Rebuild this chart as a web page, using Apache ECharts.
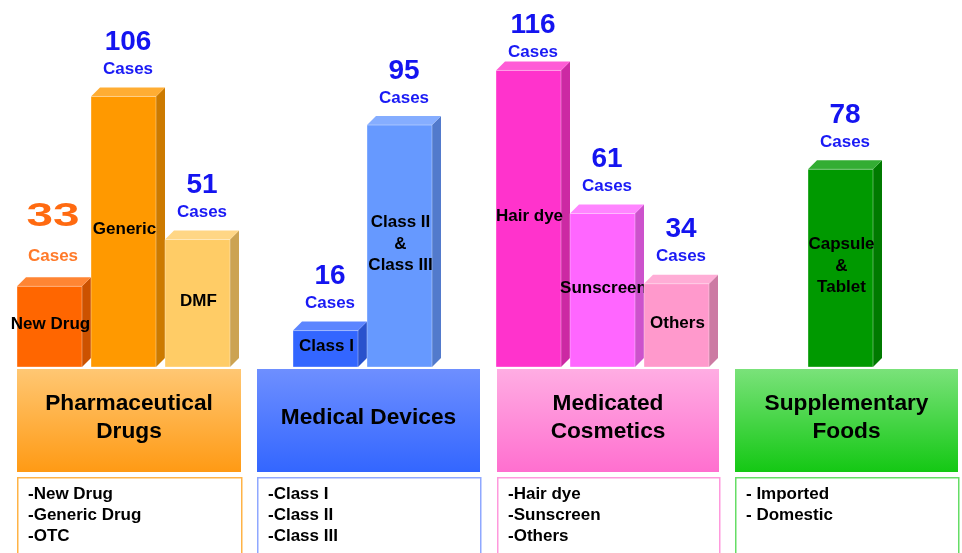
<!DOCTYPE html>
<html>
<head>
<meta charset="utf-8">
<script src="https://cdn.jsdelivr.net/npm/echarts@6/dist/echarts.min.js"></script>
<style>
html,body{margin:0;padding:0;background:#fff;}
#chart{width:962px;height:553px;}
</style>
</head>
<body>
<div id="chart"></div>
<script>
// ---------- DATA ----------
const groupTitles = ['Pharmaceutical\nDrugs', 'Medical Devices', 'Medicated\nCosmetics', 'Supplementary\nFoods'];
const pharmCats = ['New Drug', 'Generic', 'DMF'];
const pharmValues = [33, 106, 51];
const deviceCats = ['Class I', 'Class II\n&\nClass III'];
const deviceValues = [16, 95];
const cosmeticCats = ['Hair dye', 'Sunscreen', 'Others'];
const cosmeticValues = [116, 61, 34];
const foodCats = ['Capsule\n&\nTablet'];
const foodValues = [78];
const pharmItems = ['-New Drug', '-Generic Drug', '-OTC'];
const deviceItems = ['-Class I', '-Class II', '-Class III'];
const cosmeticItems = ['-Hair dye', '-Sunscreen', '-Others'];
const foodItems = ['- Imported', '- Domestic'];
const unitLabel = 'Cases';

// ---------- STYLE / LAYOUT ----------
const FONT = '"Liberation Sans", Arial, sans-serif';
const Y_MIN = 2, Y_MAX = 140;
const GRID_BOTTOM = 186, GRID_TOP = 8;
const BAND = 74, DEPTH = 9;
const groupsCfg = [
  { cats: pharmCats, values: pharmValues, left: 17, items: pharmItems,
    colors: [
      { front: '#FF6600', side: '#CC5200', top: '#FF8533' },
      { front: '#FF9900', side: '#CC7A00', top: '#FFAD33' },
      { front: '#FFCC66', side: '#CCA352', top: '#FFD685' }],
    box: { x: 17, w: 224, c0: '#FFC773', c1: '#FF9A14', border: '#FFB347' } },
  { cats: deviceCats, values: deviceValues, left: 293, items: deviceItems,
    colors: [
      { front: '#3366FF', side: '#2952CC', top: '#5C85FF' },
      { front: '#6699FF', side: '#527ACC', top: '#85ADFF' }],
    box: { x: 257, w: 223, c0: '#6E8FFF', c1: '#3366FF', border: '#8FA8FF' } },
  { cats: cosmeticCats, values: cosmeticValues, left: 496, items: cosmeticItems,
    colors: [
      { front: '#FF33CC', side: '#CC29A3', top: '#FF5CD6' },
      { front: '#FF66FF', side: '#CC52CC', top: '#FF85FF' },
      { front: '#FF99CC', side: '#CC7AA3', top: '#FFADD6' }],
    box: { x: 497, w: 222, c0: '#FFADE3', c1: '#FF6FCF', border: '#FF99DD' } },
  { cats: foodCats, values: foodValues, left: 808, items: foodItems,
    colors: [
      { front: '#009900', side: '#007A00', top: '#33AD33' }],
    box: { x: 735, w: 223, c0: '#7AE27A', c1: '#14C814', border: '#66DD66' } }
];

const grids = [], xAxes = [], yAxes = [], series = [];
groupsCfg.forEach((g, gi) => {
  grids.push({ left: g.left, width: BAND * g.cats.length, top: GRID_TOP, bottom: GRID_BOTTOM });
  xAxes.push({ type: 'category', gridIndex: gi, data: g.cats, show: false, boundaryGap: true });
  yAxes.push({ type: 'value', gridIndex: gi, min: Y_MIN, max: Y_MAX, show: false });
  series.push({
    type: 'custom',
    xAxisIndex: gi, yAxisIndex: gi,
    data: g.values.map((v, i) => [i, v]),
    renderItem: function (params, api) {
      const i = api.value(0), v = api.value(1);
      const col = g.colors[i];
      const topPt = api.coord([i, v]);
      const basePt = api.coord([i, Y_MIN]);
      const bw = api.size([1, 0])[0];
      const x0 = topPt[0] - bw / 2, x1 = x0 + bw - DEPTH;
      const yT = topPt[1], yB = basePt[1];
      const d = DEPTH;
      const highlight = (gi === 0 && i === 0);
      const cx = (x0 + x1 + d) / 2;
      const children = [
        { type: 'polygon', shape: { points: [[x1, yT], [x1 + d, yT - d], [x1 + d, yB - d], [x1, yB]] },
          style: { fill: col.side } },
        { type: 'polygon', shape: { points: [[x0, yT], [x1, yT], [x1 + d, yT - d], [x0 + d, yT - d]] },
          style: { fill: col.top } },
        { type: 'rect', shape: { x: x0, y: yT, width: x1 - x0, height: yB - yT },
          style: { fill: col.front, stroke: 'rgba(255,255,255,0.35)', lineWidth: 1 } },
        { type: 'text', x: (x0 + x1) / 2 + 1, y: (yT + yB) / 2 - 2,
          style: { text: g.cats[i], fill: '#000', font: 'bold 17px ' + FONT, align: 'center',
                   verticalAlign: 'middle', lineHeight: 21.5 } }
      ];
      if (highlight) {
        children.push({ type: 'text', x: cx - 1, y: yT - 70, scaleX: 1.4, scaleY: 1, originX: 0, originY: 0,
          style: { text: String(v), fill: '#FF6A10', font: 'bold 34px ' + FONT, align: 'center', verticalAlign: 'middle' } });
        children.push({ type: 'text', x: cx - 1, y: yT - 30,
          style: { text: unitLabel, fill: '#FF7A2A', font: 'bold 17px ' + FONT, align: 'center', verticalAlign: 'middle' } });
      } else {
        const ny = Math.max(yT - 54, 25);
        children.push({ type: 'text', x: cx, y: ny,
          style: { text: String(v), fill: '#1414F0', font: 'bold 28px ' + FONT, align: 'center', verticalAlign: 'middle' } });
        children.push({ type: 'text', x: cx, y: ny + 27,
          style: { text: unitLabel, fill: '#1A1AF5', font: 'bold 17px ' + FONT, align: 'center', verticalAlign: 'middle' } });
      }
      return { type: 'group', children: children };
    }
  });
});

// category header boxes & item lists
const graphics = [];
groupsCfg.forEach((g, gi) => {
  const b = g.box;
  graphics.push({
    type: 'rect', left: b.x, top: 369, shape: { width: b.w, height: 103 },
    style: { fill: { type: 'linear', x: 0, y: 0, x2: 0, y2: 1,
      colorStops: [{ offset: 0, color: b.c0 }, { offset: 1, color: b.c1 }] } }
  });
  graphics.push({
    type: 'text', x: b.x + b.w / 2, y: 418,
    style: { text: groupTitles[gi], fill: '#000', font: 'bold 22.7px ' + FONT, align: 'center',
             verticalAlign: 'middle', lineHeight: 28 }
  });
  graphics.push({
    type: 'rect', left: b.x, top: 477, shape: { width: b.w, height: 90 },
    style: { fill: '#fff', stroke: b.border, lineWidth: 1.5 }
  });
  graphics.push({
    type: 'text', x: b.x + 11, y: 483.5,
    style: { text: g.items.join('\n'), fill: '#000', font: 'bold 17px ' + FONT, align: 'left',
             verticalAlign: 'top', lineHeight: 21 }
  });
});

const chart = echarts.init(document.getElementById('chart'), null, { renderer: 'canvas' });
chart.setOption({
  backgroundColor: '#fff',
  animation: false,
  grid: grids,
  xAxis: xAxes,
  yAxis: yAxes,
  series: series,
  graphic: graphics
});
</script>
</body>
</html>
